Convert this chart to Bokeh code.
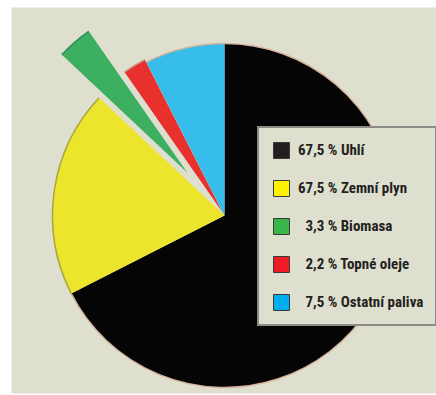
import math
from bokeh.plotting import figure
from bokeh.models import Range1d, Legend, LegendItem, ColumnDataSource
from bokeh.embed import file_html
from bokeh.resources import INLINE

# ---- data ----
categories = ["Uhlí", "Zemní plyn", "Biomasa", "Topné oleje", "Ostatní paliva"]
shares = [67.5, 19.5, 3.3, 2.2, 7.5]
legend_labels = ["67,5 % Uhlí", "67,5 % Zemní plyn", "\u20073,3 % Biomasa",
                 "\u20072,2 % Topné oleje", "\u20077,5 % Ostatní paliva"]

# ---- style ----
slice_colors = ["#050505", "#ece52b", "#3caf60", "#e8302c", "#36bdeb"]
edge_colors = ["#d8b49e", "#a8a640", "#2d8f5c", "#c9a08a", "#cdb49c"]
swatch_colors = ["#231f20", "#fff200", "#39b54a", "#ed1c24", "#00aeef"]
explode = [0, 0, 57, 3, 0]
radius = 172
bg = "#dfdfcf"

# ---- geometry derived from data ----
total = sum(shares)
starts, ends, xs, ys = [], [], [], []
cum = 0.0
for s, ex in zip(shares, explode):
    a0 = math.pi / 2 - 2 * math.pi * cum / total
    cum += s
    a1 = math.pi / 2 - 2 * math.pi * cum / total
    mid = (a0 + a1) / 2
    starts.append(a0)
    ends.append(a1)
    xs.append(ex * math.cos(mid))
    ys.append(ex * math.sin(mid))

src = ColumnDataSource(dict(x=xs, y=ys, start=starts, end=ends,
                            color=slice_colors, edge=edge_colors, cat=categories))

p = figure(width=436, height=395, output_backend="svg", toolbar_location=None,
           x_axis_location=None, y_axis_location=None,
           x_range=Range1d(-213, 212), y_range=Range1d(-178, 208),
           min_border_left=11, min_border_top=7, min_border_bottom=2, min_border_right=0,
           border_fill_color="white", background_fill_color=bg, outline_line_color=None)
p.grid.visible = False

p.wedge(x="x", y="y", radius=radius, start_angle="start", end_angle="end",
        direction="clock", fill_color="color", line_color=None, source=src)
p.arc(x="x", y="y", radius=radius, start_angle="start", end_angle="end",
      direction="clock", line_color="edge", line_width=1.5, source=src)

nan = float("nan")
items = []
for lab, c in zip(legend_labels, swatch_colors):
    r = p.rect(x=[nan], y=[nan], width=1, height=1, fill_color=c,
               line_color="#3a3a3a", line_width=1)
    items.append(LegendItem(label=lab, renderers=[r]))

legend = Legend(items=items, location=(246, 67), orientation="vertical",
                padding=12, margin=0, spacing=18, glyph_width=20, glyph_height=20,
                label_height=20, label_width=122, label_standoff=7,
                label_text_font="Roboto Condensed",
                label_text_font_style="bold", label_text_font_size="15px",
                label_text_color="#231f20",
                border_line_color="#3a3a3a", border_line_width=2,
                background_fill_color=bg, background_fill_alpha=1.0)
p.add_layout(legend)

open("out.html", "w").write(file_html(p, INLINE))
